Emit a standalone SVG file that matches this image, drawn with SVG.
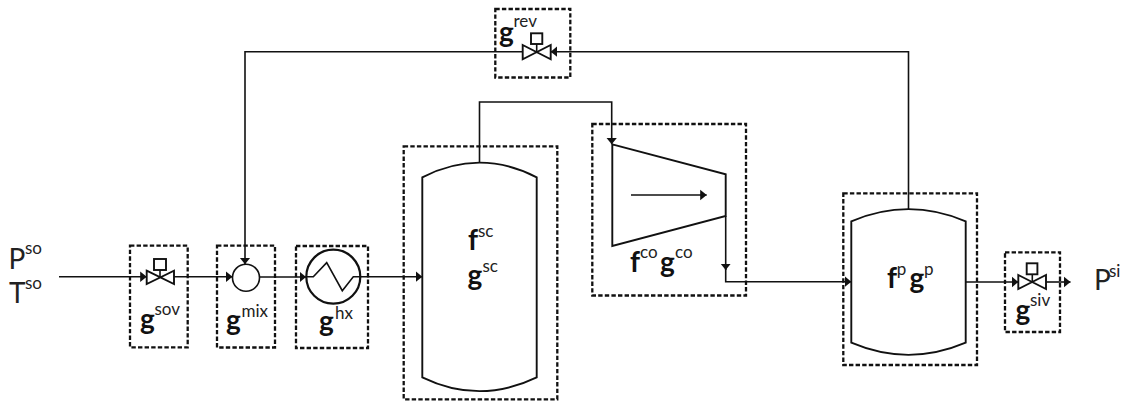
<svg xmlns="http://www.w3.org/2000/svg" width="1128" height="401" viewBox="0 0 1128 401">
<style>
.box{fill:none;stroke:#111;stroke-width:2.3;stroke-dasharray:4.4 2.2}
.shape{fill:#fff;stroke:#111;stroke-width:1.9}
.thin{fill:none;stroke:#111;stroke-width:1.6}
.line{fill:none;stroke:#111;stroke-width:1.6;marker-end:url(#arrow)}
text{font-family:"Lato","Open Sans","Liberation Sans",sans-serif;fill:#111}
.g{font-size:28px;font-weight:700}
.s{font-size:17px;font-weight:400;fill:#222}
.v{font-size:28px;font-weight:400;fill:#222}
</style>
<defs>
<marker id="arrow" markerUnits="userSpaceOnUse" markerWidth="8" markerHeight="12" refX="6.500" refY="6" orient="auto"><path d="M0 0.700L6.500 6L0 11.300Z" fill="#111"/></marker>
</defs>
<rect width="1128" height="401" fill="#fff"/>
<g id="connectors">
<path class="line" d="M59 276.700H146.700"/>
<path class="line" d="M174 276.700H232.500"/>
<path class="line" d="M259.500 277H306"/>
<path class="line" d="M360 276.700H422.300"/>
<path class="line" d="M908.500 209.300V51.700H550.700"/>
<path class="line" d="M522.700 51.700H245V264.200"/>
<path class="line" d="M479.500 162.700V102H611.700V144.300"/>
<path class="line" d="M725.700 216V270"/>
<path class="thin" d="M725.700 268V281.700H800"/>
<path class="line" d="M800 281.700H851.300"/>
<path class="line" d="M965.700 282H1018.300"/>
<path class="line" d="M1046 282H1070.500"/>
</g>
<g id="source-labels">
<text><tspan class="v" x="8.500" y="269.300">P</tspan><tspan class="s" x="25" y="254">so</tspan></text>
<text><tspan class="v" x="9" y="302.700">T</tspan><tspan class="s" x="25" y="289">so</tspan></text>
</g>
<g id="sov">
<rect class="box" x="130" y="245.700" width="57.700" height="101.600"/>
<path class="shape" d="M146.700 270.700L174 284V270.700L146.700 284Z"/>
<path class="thin" d="M160 270V277"/>
<rect class="shape" x="154" y="259" width="12" height="11"/>
<text><tspan class="g" x="140" y="329">g</tspan><tspan class="s" x="154.500" y="315">sov</tspan></text>
</g>
<g id="mix">
<rect class="box" x="217" y="245.700" width="58" height="101.800"/>
<circle class="thin" cx="246" cy="277.700" r="13.500"/>
<text><tspan class="g" x="226" y="330">g</tspan><tspan class="s" x="241.500" y="317">mix</tspan></text>
</g>
<g id="hx">
<rect class="box" x="296" y="246" width="72" height="102"/>
<circle cx="333.300" cy="276.700" r="27" fill="#fff" stroke="#111" stroke-width="2.200"/>
<path class="thin" d="M306 276.700H313.300L326.700 262.700L342.300 290.700L353.300 276.700H360"/>
<text><tspan class="g" x="319" y="331">g</tspan><tspan class="s" x="335" y="319">hx</tspan></text>
</g>
<g id="rev">
<rect class="box" x="495.300" y="9" width="75" height="68.500"/>
<path class="shape" d="M522.700 45L550.700 59.300V45L522.700 59.300Z"/>
<path class="thin" d="M536.700 44V52"/>
<rect class="shape" x="531" y="33.300" width="11.300" height="10.700"/>
<text><tspan class="g" x="499" y="42">g</tspan><tspan class="s" x="513.500" y="27">rev</tspan></text>
</g>
<g id="sc">
<rect class="box" x="403.700" y="146.300" width="153.600" height="253"/>
<path class="shape" d="M422.300 177.300Q479.500 148 536.700 177.300V377.300Q479.500 405 422.300 377.300Z"/>
<text><tspan class="g" x="468" y="250">f</tspan><tspan class="s" x="478" y="237">sc</tspan></text>
<text><tspan class="g" x="467.500" y="285">g</tspan><tspan class="s" x="482.500" y="272">sc</tspan></text>
</g>
<g id="co">
<rect class="box" x="592.300" y="124" width="153.700" height="171.500"/>
<path class="shape" d="M612.300 144.300L725.700 174.300V216L612.300 246Z"/>
<path class="line" d="M631 195H706.700"/>
<text><tspan class="g" x="630" y="272">f</tspan><tspan class="s" x="640" y="258">co</tspan><tspan class="g" x="660" y="272">g</tspan><tspan class="s" x="675" y="258">co</tspan></text>
</g>
<g id="p">
<rect class="box" x="843.300" y="193.300" width="133.700" height="171.700"/>
<path class="shape" d="M851.300 221.300Q908.500 197 965.700 221.300V342.700Q908.500 367 851.300 342.700Z"/>
<text><tspan class="g" x="887" y="288">f</tspan><tspan class="s" x="896.700" y="275">p</tspan><tspan class="g" x="909.500" y="288">g</tspan><tspan class="s" x="924" y="275">p</tspan></text>
</g>
<g id="siv">
<rect class="box" x="1005" y="252.300" width="55" height="79.700"/>
<path class="shape" d="M1018.300 275L1046 289V275L1018.300 289Z"/>
<path class="thin" d="M1032.300 274V282"/>
<rect class="shape" x="1026.700" y="263.300" width="10.700" height="11"/>
<text><tspan class="g" x="1015.500" y="320">g</tspan><tspan class="s" x="1030" y="306">siv</tspan></text>
</g>
<g id="sink-label">
<text><tspan class="v" x="1094" y="290">P</tspan><tspan class="s" x="1109" y="277">si</tspan></text>
</g>
</svg>
